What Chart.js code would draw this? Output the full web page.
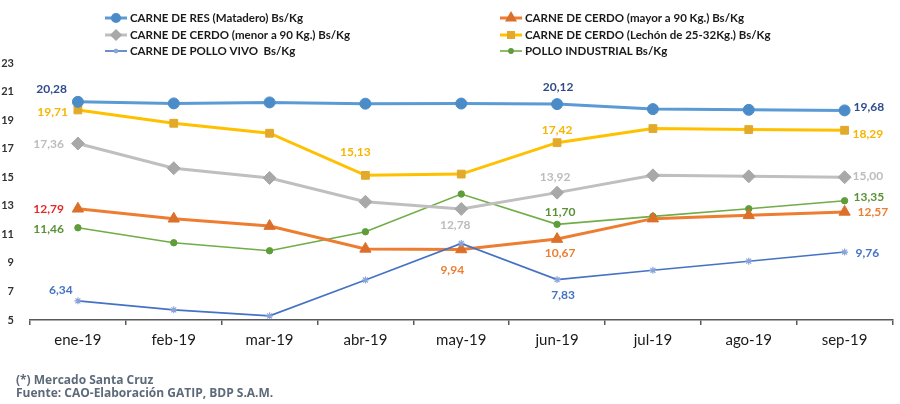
<!DOCTYPE html>
<html>
<head>
<meta charset="utf-8">
<script src="https://cdn.jsdelivr.net/npm/chart.js@4/dist/chart.umd.min.js"></script>
<style>
  html, body { margin: 0; padding: 0; background: #fff; }
  #wrap { position: relative; width: 900px; height: 404px; }
  #c { position: absolute; left: 0; top: 0; }
  .foot { position: absolute; left: 16px; font-family: "Open Sans", Lato, sans-serif; font-weight: 700; font-size: 12px; color: #5c6a7a; line-height: 14px; }
</style>
</head>
<body>
<div id="wrap">
  <canvas id="c" width="900" height="404"></canvas>
  <div class="foot" style="top:373px">(*) Mercado Santa Cruz</div>
  <div class="foot" style="top:386px">Fuente: CAO-Elaboración GATIP, BDP S.A.M.</div>
</div>
<script>
const months = ["ene-19","feb-19","mar-19","abr-19","may-19","jun-19","jul-19","ago-19","sep-19"];
const carneRes      = [20.28, 20.17, 20.24, 20.15, 20.16, 20.12, 19.77, 19.72, 19.68];
const cerdoMayor90  = [12.79, 12.09, 11.58, 9.98, 9.94, 10.67, 12.10, 12.33, 12.57];
const cerdoMenor90  = [17.36, 15.63, 14.95, 13.28, 12.78, 13.92, 15.13, 15.06, 15.00];
const cerdoLechon   = [19.71, 18.78, 18.08, 15.13, 15.22, 17.42, 18.41, 18.34, 18.29];
const polloVivo     = [6.34, 5.71, 5.29, 7.80, 10.36, 7.83, 8.48, 9.12, 9.76];
const polloInd      = [11.46, 10.41, 9.85, 11.18, 13.82, 11.70, 12.26, 12.79, 13.35];
const seriesNames = [
  "CARNE DE RES (Matadero) Bs/Kg",
  "CARNE DE CERDO (mayor a 90 Kg.) Bs/Kg",
  "CARNE DE CERDO (menor a 90 Kg.) Bs/Kg",
  "CARNE DE CERDO (Lechón de 25-32Kg.) Bs/Kg",
  "CARNE DE POLLO VIVO  Bs/Kg",
  "POLLO INDUSTRIAL Bs/Kg"
];
const yMin = 5, yMax = 23, yStep = 2;

const FONT = "Lato, 'Open Sans', sans-serif";

function ds(label, data, color, pColor, style, radius, width, lblColor) {
  return {
    label, data,
    borderColor: color, backgroundColor: pColor,
    pointBackgroundColor: pColor, pointBorderColor: pColor,
    pointStyle: style, pointRadius: radius, pointHoverRadius: radius,
    pointBorderWidth: style === 'star' ? 1.2 : 1,
    borderWidth: width, tension: 0, fill: false,
    lblColor
  };
}

const datasets = [
  ds(seriesNames[4], polloVivo, '#4472c4', '#8aa4da', 'star', 3.5, 1.6, '#4472c4'),
  ds(seriesNames[0], carneRes, '#5b9bd5', '#4b8cc8', 'circle', 5.5, 3, '#2e4c8c'),
  ds(seriesNames[1], cerdoMayor90, '#ed7d31', '#dc6f2a', 'triangle', 6.5, 3, '#ed7d31'),
  ds(seriesNames[2], cerdoMenor90, '#bfbfbf', '#a8a8a8', 'rectRot', 6.5, 3, '#bcbcbc'),
  ds(seriesNames[3], cerdoLechon, '#ffc000', '#e3a92b', 'rect', 5.5, 3, '#f7b500'),
  ds(seriesNames[5], polloInd, '#70ad47', '#5f9c3a', 'circle', 3.2, 1.6, '#5a9136')
];

// label placements: [datasetName, index, mode, dx, dy, color?]
const labelSpecs = [
  [seriesNames[0], 0, 'L', -11, -13],
  [seriesNames[0], 5, 'C', 1, -17],
  [seriesNames[0], 8, 'R', 9, -3],
  [seriesNames[3], 0, 'L', -10, 2],
  [seriesNames[3], 3, 'C', -10, -23],
  [seriesNames[3], 5, 'C', 0, -13],
  [seriesNames[3], 8, 'R', 8, 4],
  [seriesNames[2], 0, 'L', -14, 1],
  [seriesNames[2], 4, 'C', -6, 16],
  [seriesNames[2], 5, 'C', -2, -16],
  [seriesNames[2], 8, 'R', 8, -1],
  [seriesNames[1], 0, 'L', -14, 0, '#e02a2a'],
  [seriesNames[1], 4, 'C', -9, 21],
  [seriesNames[1], 5, 'C', 3, 14],
  [seriesNames[1], 8, 'R', 13, 0],
  [seriesNames[4], 0, 'C', -17, -11],
  [seriesNames[4], 5, 'C', 6, 16],
  [seriesNames[4], 8, 'R', 11, 1],
  [seriesNames[5], 0, 'L', -14, 1],
  [seriesNames[5], 5, 'C', 3, -12],
  [seriesNames[5], 8, 'R', 9, -4]
];

const labelPlugin = {
  id: 'valueLabels',
  afterDatasetsDraw(chart) {
    const ctx = chart.ctx;
    ctx.save();
    ctx.font = "bold 12px " + FONT;
    ctx.textBaseline = 'middle';
    labelSpecs.forEach(s => {
      const di = chart.data.datasets.findIndex(d => d.label === s[0]);
      const d = chart.data.datasets[di];
      const pt = chart.getDatasetMeta(di).data[s[1]];
      const txt = d.data[s[1]].toFixed(2).replace('.', ',');
      ctx.fillStyle = s[5] || d.lblColor;
      ctx.textAlign = s[2] === 'L' ? 'right' : (s[2] === 'R' ? 'left' : 'center');
      ctx.fillText(txt, pt.x + s[3], pt.y + s[4]);
    });
    ctx.restore();
  }
};

const legendOrder = [
  [seriesNames[0], 105, 18], [seriesNames[2], 105, 35], [seriesNames[4], 105, 51],
  [seriesNames[1], 500, 18], [seriesNames[3], 500, 35], [seriesNames[5], 500, 51]
];

const legendPlugin = {
  id: 'customLegend',
  afterDraw(chart) {
    const ctx = chart.ctx;
    ctx.save();
    legendOrder.forEach(([name, x, y]) => {
      const d = chart.data.datasets.find(dd => dd.label === name);
      ctx.strokeStyle = d.borderColor;
      ctx.lineWidth = d.borderWidth;
      ctx.beginPath(); ctx.moveTo(x, y); ctx.lineTo(x + 22, y); ctx.stroke();
      ctx.fillStyle = d.pointBackgroundColor;
      ctx.strokeStyle = d.pointBorderColor;
      Chart.helpers.drawPoint(ctx, {
        pointStyle: d.pointStyle,
        radius: Math.min(d.pointRadius * 0.65, 4),
        borderWidth: 1, rotation: 0
      }, x + 11, y);
      ctx.fillStyle = '#1a1a1a';
      ctx.font = "bold 11.5px " + FONT;
      ctx.textAlign = 'left';
      ctx.textBaseline = 'middle';
      ctx.fillText(name, x + 25, y);
    });
    ctx.restore();
  }
};

new Chart(document.getElementById('c'), {
  type: 'line',
  data: { labels: months, datasets },
  options: {
    responsive: false,
    animation: false,
    layout: { padding: { top: 63, left: 0, right: 3, bottom: 0 } },
    plugins: { legend: { display: false }, tooltip: { enabled: false } },
    scales: {
      x: {
        offset: true,
        grid: { offset: true, drawOnChartArea: false, drawTicks: true, tickLength: 5, color: '#595959', lineWidth: 1.5 },
        border: { display: true, color: '#595959', width: 1.5 },
        ticks: { color: '#1a1a1a', font: { family: FONT, size: 15 }, padding: 6, maxRotation: 0 },
        afterFit(scale) { scale.height = 84; }
      },
      y: {
        min: yMin, max: yMax,
        grid: { display: false },
        border: { display: false },
        ticks: { stepSize: yStep, color: '#333', font: { family: FONT, size: 11, weight: 'bold' }, padding: 8 },
        afterFit(scale) { scale.width = 30; }
      }
    }
  },
  plugins: [labelPlugin, legendPlugin]
});
</script>
</body>
</html>
